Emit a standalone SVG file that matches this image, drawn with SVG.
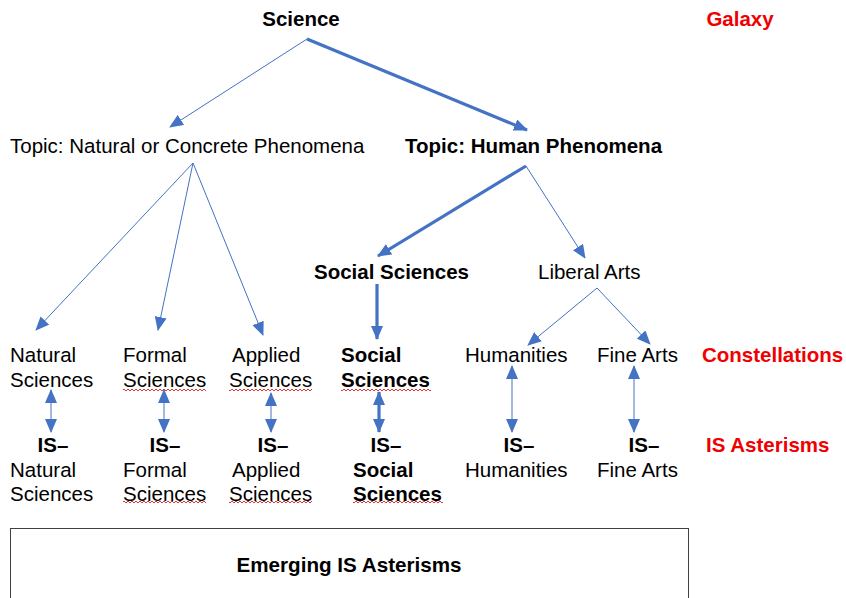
<svg xmlns="http://www.w3.org/2000/svg" width="846" height="598" viewBox="0 0 846 598">
<defs>
<marker id="ah" markerUnits="userSpaceOnUse" markerWidth="14" markerHeight="12" refX="13" refY="6" orient="auto-start-reverse"><path d="M0,0 L14,6 L0,12 Z" fill="#4472C4"/></marker>
<pattern id="wave" width="4" height="4" patternUnits="userSpaceOnUse"><path d="M0,1 L2,3 L4,1" fill="none" stroke="#E02020" stroke-width="0.9"/></pattern>
<style>
text{font-family:"Liberation Sans",Arial,sans-serif;font-size:20.5px;fill:#000}
.b{font-weight:bold}
.r{fill:#F00000;font-weight:bold}
.m{text-anchor:middle}
.thin{stroke:#4472C4;stroke-width:1;fill:none;marker-end:url(#ah)}
.thick{stroke:#4472C4;stroke-width:3.2;fill:none;marker-end:url(#ah)}
.dbl{marker-start:url(#ah)}
.sq{fill:url(#wave)}
</style>
</defs>
<rect width="846" height="598" fill="#fff"/>
<g id="connectors">
<line class="thin" x1="307" y1="39" x2="170" y2="127"/>
<line class="thick" x1="307" y1="39" x2="527" y2="130"/>
<line class="thin" x1="193" y1="163" x2="36" y2="330"/>
<line class="thin" x1="193" y1="163" x2="158" y2="330"/>
<line class="thin" x1="193" y1="163" x2="263" y2="335"/>
<line class="thick" x1="526" y1="166" x2="378" y2="256"/>
<line class="thin" x1="526" y1="166" x2="585" y2="258"/>
<line class="thick" x1="377" y1="284" x2="377" y2="339"/>
<line class="thin" x1="597" y1="288" x2="528" y2="345"/>
<line class="thin" x1="597" y1="288" x2="650" y2="344"/>
<line class="thin dbl" x1="51" y1="390" x2="51" y2="432"/>
<line class="thin dbl" x1="164" y1="390" x2="164" y2="432"/>
<line class="thin dbl" x1="271" y1="393" x2="271" y2="432"/>
<line class="thick dbl" x1="379" y1="392" x2="379" y2="432"/>
<line class="thin dbl" x1="512" y1="366" x2="512" y2="432"/>
<line class="thin dbl" x1="634" y1="366" x2="634" y2="432"/>
</g>
<g id="science"><text class="b m" x="301" y="26">Science</text></g>
<g id="galaxy"><text class="r m" x="740" y="26">Galaxy</text></g>
<g id="topic-natural"><text x="10" y="153">Topic: Natural or Concrete Phenomena</text></g>
<g id="topic-human"><text class="b" x="405" y="153">Topic: Human Phenomena</text></g>
<g id="social-sciences-top"><text class="b" x="314" y="279">Social Sciences</text></g>
<g id="liberal-arts"><text x="538" y="279">Liberal Arts</text></g>
<g id="natural-sciences"><text x="10" y="362">Natural</text><text x="10" y="387">Sciences</text></g>
<g id="formal-sciences"><text x="123" y="362">Formal</text><text x="123" y="387">Sciences</text><rect class="sq" x="123" y="388" width="83" height="4"/></g>
<g id="applied-sciences"><text x="232" y="362">Applied</text><text x="229" y="387">Sciences</text><rect class="sq" x="229" y="388" width="83" height="4"/></g>
<g id="social-sciences"><text class="b" x="341" y="362">Social</text><text class="b" x="341" y="387">Sciences</text><rect class="sq" x="341" y="388" width="90" height="4"/></g>
<g id="humanities"><text x="465" y="362">Humanities</text></g>
<g id="fine-arts"><text x="597" y="362">Fine Arts</text></g>
<g id="constellations"><text class="r" x="702" y="362">Constellations</text></g>
<g id="is-natural"><text class="b m" x="53" y="452">IS–</text><text x="10" y="477">Natural</text><text x="10" y="501">Sciences</text></g>
<g id="is-formal"><text class="b m" x="165" y="452">IS–</text><text x="123" y="477">Formal</text><text x="123" y="501">Sciences</text><rect class="sq" x="123" y="500" width="83" height="4"/></g>
<g id="is-applied"><text class="b m" x="273" y="452">IS–</text><text x="232" y="477">Applied</text><text x="229" y="501">Sciences</text><rect class="sq" x="229" y="500" width="83" height="4"/></g>
<g id="is-social"><text class="b m" x="386" y="452">IS–</text><text class="b" x="353" y="477">Social</text><text class="b" x="353" y="501">Sciences</text><rect class="sq" x="353" y="500" width="90" height="4"/></g>
<g id="is-humanities"><text class="b m" x="519" y="452">IS–</text><text x="465" y="477">Humanities</text></g>
<g id="is-fine-arts"><text class="b m" x="644" y="452">IS–</text><text x="597" y="477">Fine Arts</text></g>
<g id="is-asterisms"><text class="r" x="706" y="452">IS Asterisms</text></g>
<g id="emerging"><rect x="10.5" y="528.5" width="678" height="80" fill="#fff" stroke="#404040" stroke-width="1"/><text class="b m" x="349" y="572" textLength="225" lengthAdjust="spacingAndGlyphs">Emerging IS Asterisms</text></g>
</svg>
